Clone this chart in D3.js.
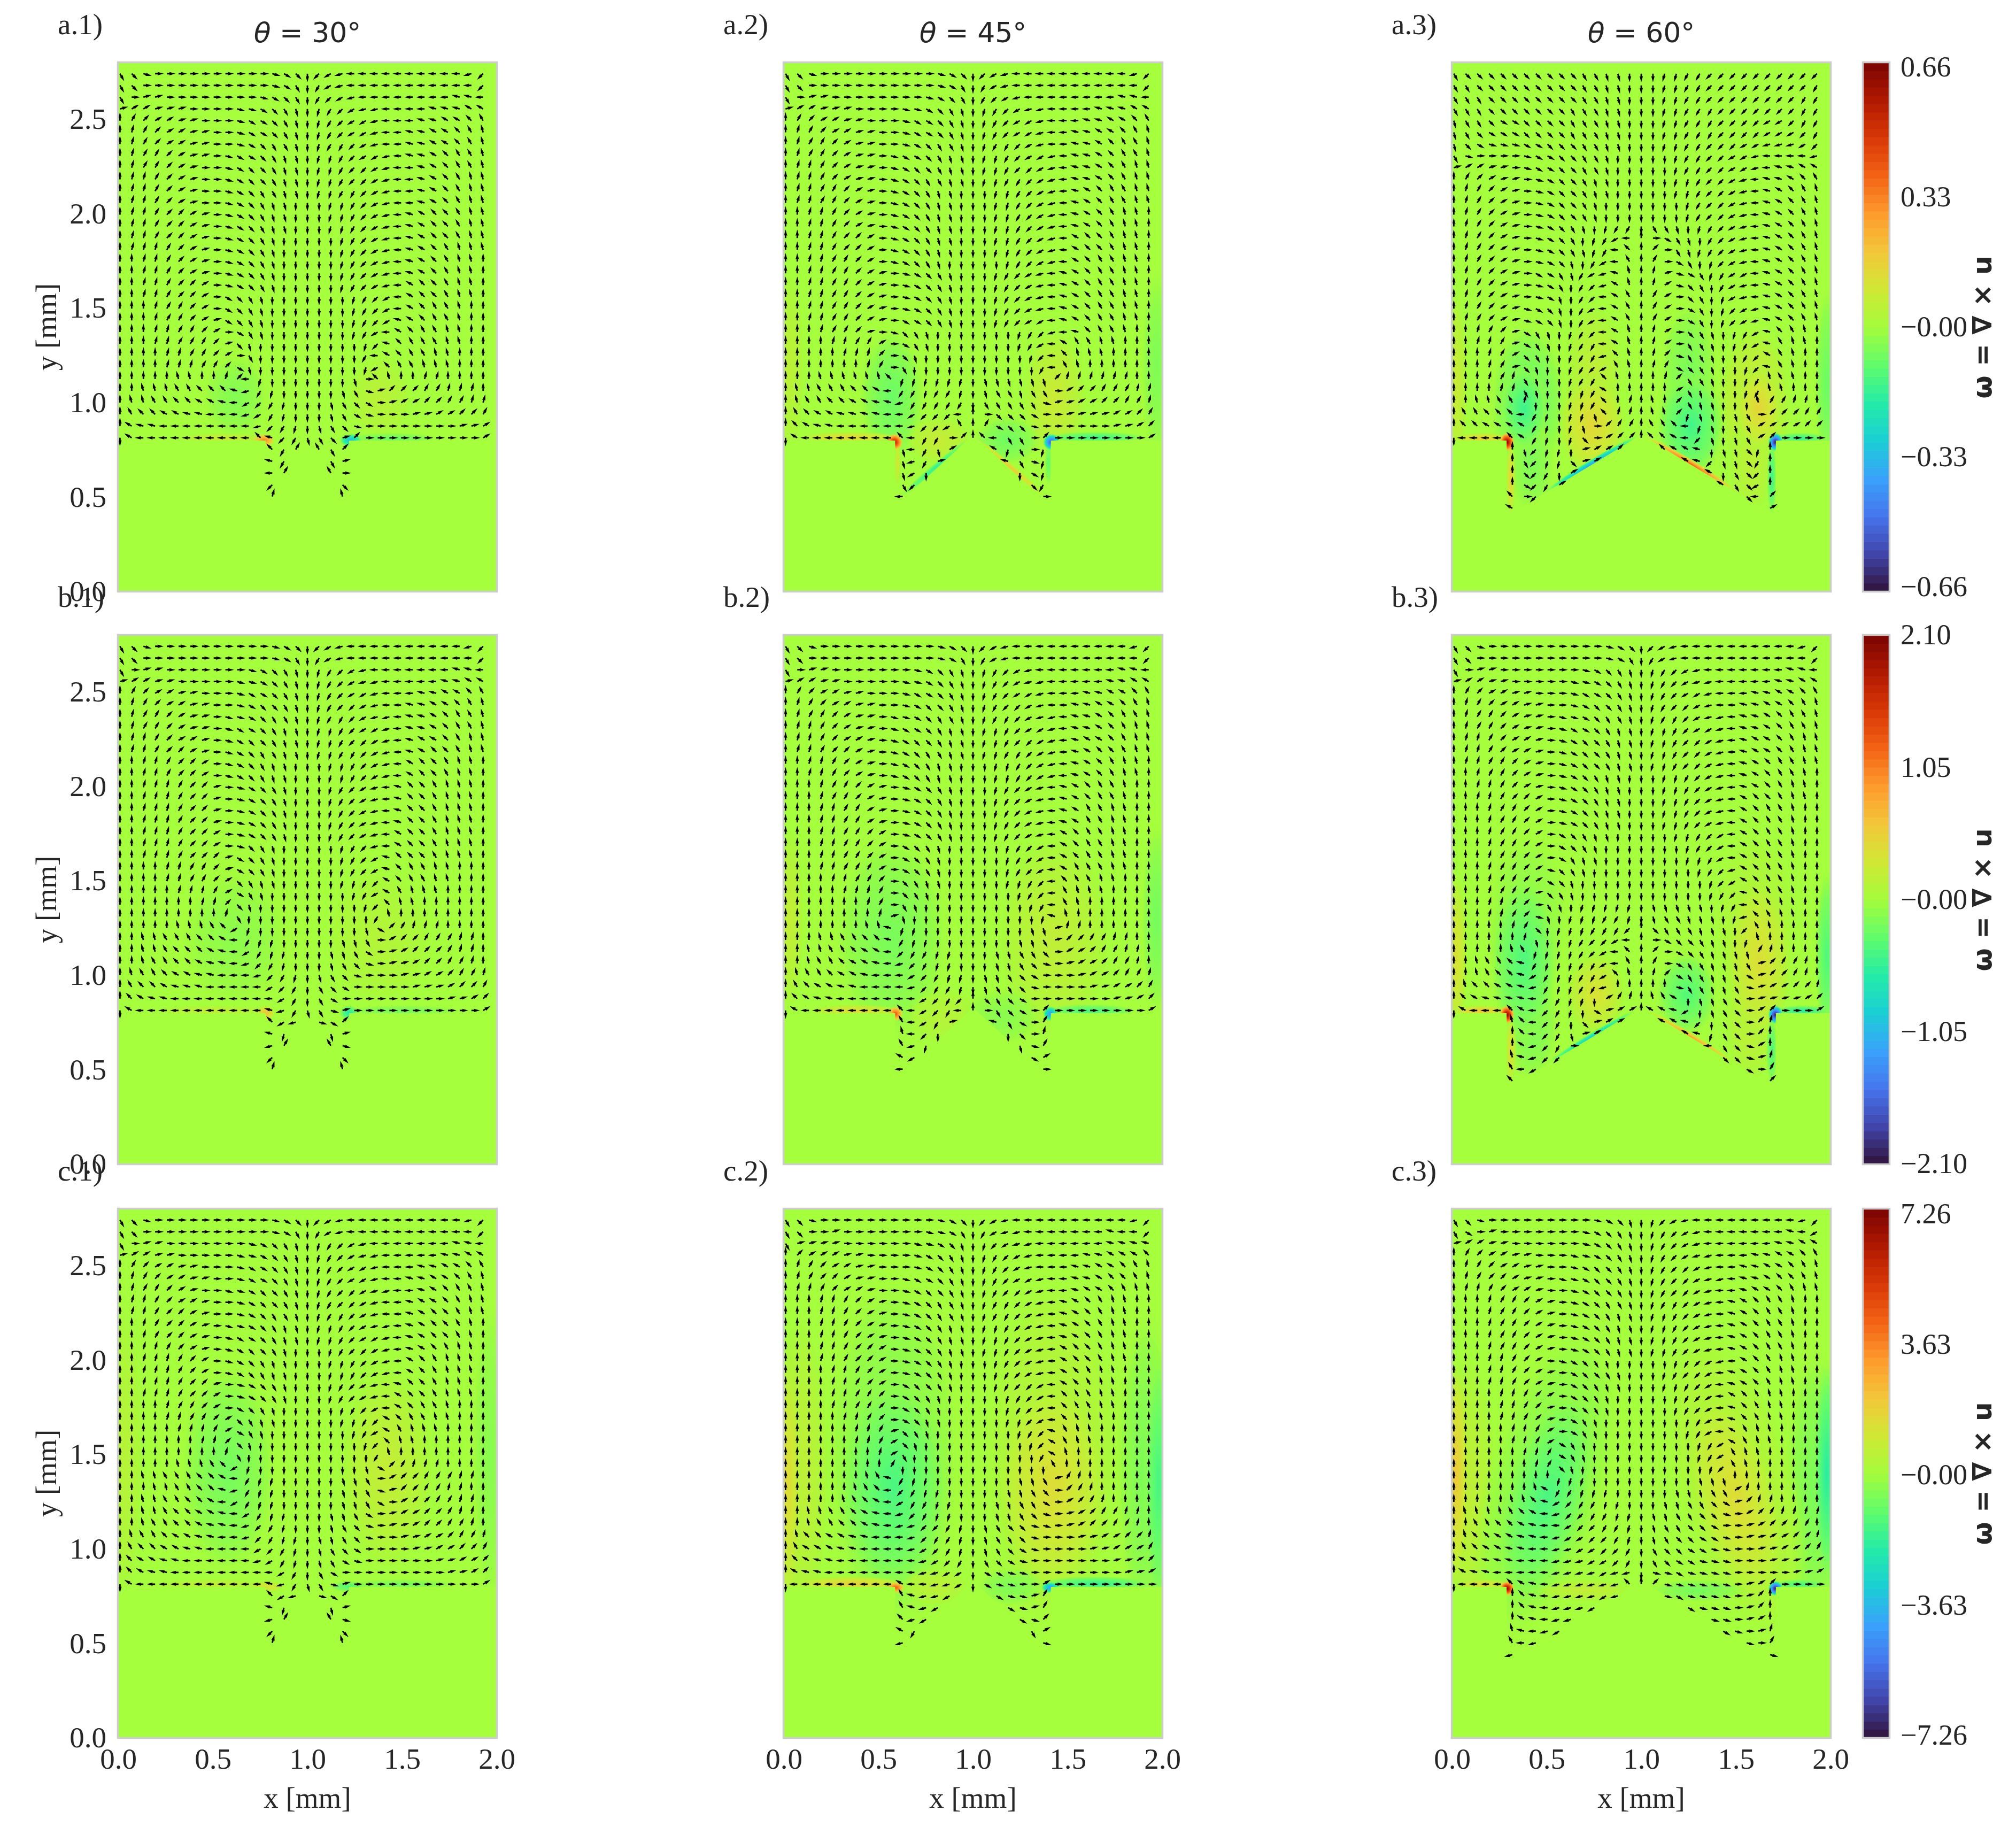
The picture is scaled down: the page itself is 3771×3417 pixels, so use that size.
<!DOCTYPE html>
<html><head><meta charset="utf-8">
<style>html,body{margin:0;padding:0;background:#fff}svg{display:block}</style>
<script src="https://cdn.jsdelivr.net/npm/d3@7"></script>
</head><body>
<div id="chart"></div>
<script>
// ---- categories and ticks
const thetas=[30,45,60];
const rowLetters=["a","b","c"];
const colorMax=[0.66,2.10,7.26];
const colorTickLabels=[["0.66","0.33","\u22120.00","\u22120.33","\u22120.66"],["2.10","1.05","\u22120.00","\u22121.05","\u22122.10"],["7.26","3.63","\u22120.00","\u22123.63","\u22127.26"]];
const xTicks=[0,0.5,1,1.5,2];
const yTicks=[0,0.5,1,1.5,2,2.5];
const turboStops=["#30123b","#4145ab","#4675ed","#39a2fc","#1bcfd4","#24eca6","#61fc6c","#a4fc3b","#d1e834","#f3c63a","#fe9b2d","#f36315","#d93806","#b11901","#7a0402"];
// cavity corner (x, y) of the left half, for theta = 30, 45, 60; apex at x = 1
const cavityX=[0.78,0.59,0.29];
const cavityY=[0.47,0.45,0.40];

// ---- arrow directions, left half of each panel (columns 0..16, rows top to bottom).
// a=0deg, g=90deg (up), m=180deg (left), s=270deg (down), each letter = 15deg. Space = no arrow.
const dir_a1=[
"uvxaaaaaaaaaaxwvs","uvaaaaaaaaaaaxwus","uabbaaaaaaaaxwvus","bccbbbaaaaxxwvuts","gedccbbaaaxwwvuts","gfedccbbaaxwwvuts",
"gfedccbbaaxwvuuts","gfeedcbbaxwwvutts","gfeedcbaaxwvvutts","gffedcbaaxwvvutts","gffedcbaaxwvuutts","gffedcbaaxwvuttss",
"gffeddcbaxwvuttss","gffeddcbaxwvuttss","gffeddcbaxwvutsss","gfffedcbaxwvutsss","ggffedcbaxwvutsss","ggffedcbaxwvutsss",
"ggffeddcaxwvutsss","ggffeddcawvutssss","gggfeedcawvutssss","gggfeedcbwvutssss","gggffeedcawutssss","gggffeeedbvtsssss",
"ggggffeedcausssss","ggggfffeedwtsssss","ggggghhggfdmrssss","gghhhiijjjlnqrsss","ghhiijjkklmopqrss","gijjkkllmmmnoqrss",
"gkllmmmmmmmmnpqrs","skmmmmmmmmmmjlpqt","             jqe ","             lq  ","             me  ","             p   ","             f   "];
const dir_a2=[
"uvxaaaaaaaaaaxwvs","uvaaaaaaaaaaaxwus","uabbaaaaaaaaxwvus","bccbbbaaaaxxwvuts","gedccbbaaaxwwvuts","gfedccbbaaxwwvuts",
"gfeedcbbaaxwvuuts","gfeedcbbaxwwvutts","gffedcbbaxwvvutts","gffedcbbaxwvuutts","gffeedcbaxwvuttss","gffeedcbaxwvuttss",
"ggffedcbaxwvuttss","ggffedcbaxwvuttss","ggffeddcaxwvuttss","ggffeddcaxwvuttss","ggffeedcaxwvutsss","ggffeedcbaxwvutss",
"ggffeedcbaxwvutss","ggffeedcbaxwvutss","ggffeedcbaxwvutss","ggffeedcbawwvutss","gggfeedbaxvutssss","ggggffeecawutssss",
"gggggfffdavtsssss","gggggggfeaussssss","ggghhhhhhjrrrrrrs","ghhiiijjkmqqrqqrs","ghiijjkkllnqqqqqs","gijkkllllmmopppmg",
"gjkllmmmmmmnppoig","skmmmmmmmmjmqqadg","          tmqtc  ","          tnqb   ","          tos    ","          up     ","          m      "];
const dir_a3=[
"uvvvvvvvvvvuuttss","uuvvvvvvvvvuuttss","uuuvvvvvvvvuuttss","uuuvvvvvvvuuuttss","tuuvwwvvvvuuuttss","tuvwwwvvvvuuuttss",
"tvwxxxwwvvvuuttss","uxaaaaxwwvvuutsss","bccbbaxwwvvuutsss","gedcbbaxwvvuttsss","gfedcbaxwvvuttsss","gfedcbaxwvvutssss",
"gfedcbaxwvvutssss","gfedcbaxwvutsrqqs","gfedcbaxwvusrqomg","gfedcbaxwvutrqmjg","gfedcbaxwvtsqomig","gfedcbawwutqonlhg",
"gfedcbaxwusqpnkhg","gfedcbaxwtsqpmkig","gfedcbxwvtsqomkig","gfedcbxwvtsqomkig","ggfedbwutsrqpmkhg","ggffebwutsrqqmkhg",
"gggfecvussrqqnjhg","gggfebvtssrqpoihg","gggfefutssrqqjhgg","ggggffutssrrqkggg","gghhiifsssrrqjgfg","giijjjmqrsrrtjffg",
"gjjkkkkqrsrtadeeg","smmmmjkqrsrvacddg","     gtprrsbccd  ","     guprrvbc    ","     gvpqsc      ","     gwpqc       ","     jap         ","     k           "];
const dir_b1=[
"uvxaaaaaaaaaaxwvs","uvaaaaaaaaaaaxwus","uabbaaaaaaaxwvuts","bccbbaaaaaxxwvuts","gedccbbaaaxwwvuts","gfedccbbaaxwvvuts",
"gfeedcbbaxxwvuuts","gfeedcbbaxwwvutts","gffedccbaxwvvutts","gffeddcbaxwvuutts","ggffeddcaxwvuttss","ggffeddcaxwvuttss",
"ggfffeddbaxwvutss","ggfffeddbaxwvutss","ggfffeddbaxwvutss","ggfffeddbaxwvutss","ggfffeddcaxwvutss","ggfffeddcaxvutsss",
"ggfffedddbwvutsss","ggggffeedbwvutsss","ggggffeedcvuttsss","gggggfffecwutssss","gggggggffdvtsssss","gggggggggfussssss",
"ggggghhhijorsssss","gghhiiijjkmqrrsss","gghhijjjklmoqrrss","gghiijjkllmnpqrss","ghiijkkllmmmnpqrs","gijjklllmmmmmopqs",
"gjkllmmmmmmmmmoqs","skmmmmmmmmmmmlnqt","             jon ","             lr  ","             ne  ","             p   ","             f   "];
const dir_b2=[
"uvxaaaaaaaaaaxwvs","uvaaaaaaaaaaaxwus","uabbaaaaaaaxwvuts","bccbbaaaaaxxwvuts","gedccbbaaaxwwvuts","gfedccbbaaxwvvuts",
"gfeedcbbaxxwvuuts","gffedcbbaxwwvutts","gffedccbaxwvvutts","gffeddcbaxwvuutts","ggffedcbaxwvuttss","ggffedcbaxwvuttss",
"gggfeedcbaxwvutss","gggfeedcbaxwvutss","gggffeecbaxwvutss","gggffeecbaxwvutss","gggffeedcaxwvutss","gggffeedcawvutsss",
"gggffeedcawvutsss","gggffeeecawvutsss","ggggffeedavuttsss","gggggfffeavutssss","gggggggfeautsssss","ggggggggfbtssssss",
"ggggggghhlrrsssss","ggghhiijjlqrrssss","gghhiijkkmpqqrrss","gghiijkklmnpqrrss","ghiijkklmmmopqrrs","gijkkllmmmmnpqqrs",
"gjkllmmmmmmmopqpg","skmmmmmmmmjmopqmg","          imoqb  ","          hmps   ","          inr    ","          ko     ","          m      "];
const dir_b3=[
"uvxaaaaaaaaaaxwvs","uvaaaaaaaaaaaxwus","uabbaaaaaaaxwvuts","bccbbaaaaaxxwvuts","gedccbbaaaxwwvuts","gfedccbbaaxwvvuts",
"gfeedcbbaxxwvuuts","gfeedcbbaxwwvutts","gffedccbaxwvvutts","gffedccbaxwvvutts","gffeedcbaxwvvutts","ggfeedcbaxwvuttss",
"ggffedcbaxwvuttss","ggffeddcaxwvuttss","gggfeedcaxwvuttss","gggfeedcaxwvuttss","gggfeedcawvuttsss","gggfeedcawvutssss",
"gggfeedcawuttssss","gggfeedcxvutsssss","gggfeedcwvtssssss","gggfeedbvutssssss","gggffedautsrrrrrs","gggffedxtsrrrqqrs",
"gggggfevsrrrqqqpg","ggggggftsrrqppomg","ggggghirrrrqpomjg","gghiijlqrrrqqomig","gghijjloqrrqqojhg","ghjjkklnqrrqqnggg",
"gjkllllmpqrrscefg","skmmmjkmpqrswbccg","     hjmpqsvbcc  ","     gjmpqtbc    ","     gknpqa      ","     hlnpp       ","     imo         ","     j           "];
const dir_c1=[
"uvxaaaaaaaaaaxwvs","uvaaaaaaaaaaaxwus","uabbaaaaaaaxwvuts","bccbbaaaaaxxwvuts","gedccbbaaaxwwvuts","gfedccbbaaxwwvuts",
"gfeedcbaaxxwvvuts","gffedccbaaxwvvuts","gffeddcbaaxwvuuts","ggfeddcbaxxwvutts","ggfeddcbaxwwvutts","ggffedcbaxwvvutss",
"ggfffedcaxwvuttss","ggfffedcaxwvuttss","ggfffeddbaxwvutss","ggfffeddcaxwvutss","ggggfeedcawvutsss","ggggffeedcvuttsss",
"gggggfffecwutssss","gggggggffdvtsssss","gggggggggfussssss","ggggghhhijorsssss","gghhiiijjkmqrrsss","ggghhiijjlnqrrsss",
"gghhiijjkmoqrrsss","gghhijjkklmoqrrss","gghiijjkllmnpqrss","ghiijkkllmmnpqrrs","gijjkkllmmmmopqrs","gjkkllmmmmmmnoqrs",
"gjkllmmmmmmmmmoqs","skmmmmmmmmmmmlnqt","             jon ","             lr  ","             ne  ","             p   ","             f   "];
const dir_c2=[
"uvxaaaaaaaaaaxwvs","uvaabaaaaaaaxxwus","ubbbbaaaaaaxxwvts","gdcccbbaaaaxwvuts","gfedccbbaaaxwvuts","gfeddcbbaaxwwvuts",
"gffedccbaaxwvvuts","gggffedcbaxwvuuts","gggffedcbaxwvuuts","gggffedcbaxwvutts","gggffedcbaxwvutts","gggffeddcaxwvutts",
"gggffeddcaxwvutss","ggggffedcaxwvutss","ggggffedcawvvutss","ggggffeedawvutsss","ggggffeedawvutsss","gggggffedawvttsss",
"ggggggffebvutssss","ggggggffecvtsssss","ggggggggfcussssss","gggggggggesssssss","ggggggghilqrrssss","gggggghijmpqrrsss",
"ggggghijkmoqqrrss","gghhiijklmnpqrrss","gghiijjklmnnppqrs","ghjjkkllmmmnpqqrs","gikkkllmmmmnopqrs","gjkllmmmmmmmnopqs",
"gkllmmmmmmmmnnoos","smmmmmmmmmkmmnnos","          ilnno  ","          ilno   ","          jno    ","          kq     ","          n      "];
const dir_c3=[
"uvxaaaaaaaaaxwvts","uwabaaaaaaaxwvuts","bccbbaaaaaaxwvuts","gedccbbaaaxxwvuts","gfedccbbaaxwvvuts","gfeddcbbaxxwvvuts",
"gffedccbaaxwvvuts","gggfeedcbaxwvuuts","gggfeedcbaxwvutts","gggfeedcbaxwvutts","gggfeedcbaxwvutts","gggfeedcbaxwvutts",
"gggffedcaxwvutsss","gggffedcbawvvutss","gggffedcbawvuttss","ggggffedcawvutsss","ggggffedbawvutsss","ggggffedbawutssss",
"gggggffecawutssss","gggggffecwutsssss","ggggggffewutsssss","gggggggfevtssssss","gggggggggrrrsssss","ggggggghkqqrrrsss",
"ggggghhjlopqqrrss","ghhhhijkmnppqqrrs","ggiijjklmmoppqqrs","ghjjkkllmnooppqrs","gijkkllmmnnooppqs","gkklllmmmnnnoopqs",
"gkllmmmmmnnnnonns","smmmmjklmnnnnnnjg","     gjlmnnnnon  ","     gjlmnnno    ","     gklmnn      ","     hlmno       ","     imn         ","     n           "];

// ---- vorticity patches: x, y, half-width, half-height (mm), tilt (deg), peak as a fraction of the colour range.
// Left half only: the right half of each panel is the mirror image with opposite sign.
const heat_a1=[[0.62,1.03,0.17,0.22,0,-0.07],[0.55,0.81,0.25,0.03,0,0.12],[0.77,0.8,0.06,0.035,0,0.5]];
const heat_a2=[[0.03,1.2,0.08,0.5,0,0.08],[0.57,1.03,0.17,0.36,0,-0.12],[0.82,0.8,0.17,0.13,0,0.11],[0.8,0.655,0.24,0.02,40,-0.25],[0.35,0.815,0.27,0.03,0,0.22],[0.6,0.68,0.02,0.12,0,0.14],[0.585,0.79,0.045,0.045,0,0.85]];
const heat_a3=[[0.02,1.1,0.06,0.5,0,0.12],[0.4,1.0,0.2,0.42,0,-0.13],[0.42,0.68,0.12,0.27,0,-0.08],[0.38,0.97,0.13,0.23,0,-0.22],[0.75,1.15,0.15,0.38,0,0.09],[0.74,0.88,0.18,0.28,0,0.21],[0.74,0.675,0.29,0.024,31,-0.55],[0.16,0.81,0.15,0.03,0,0.24],[0.31,0.6,0.025,0.2,0,0.22],[0.29,0.79,0.04,0.05,0,0.98]];
const heat_b1=[[0.62,1.2,0.28,0.36,0,-0.05],[0.5,0.81,0.32,0.03,0,0.1],[0.78,0.8,0.05,0.04,0,0.3]];
const heat_b2=[[0.03,1.3,0.08,0.5,0,0.1],[0.57,1.2,0.3,0.55,0,-0.09],[0.85,0.78,0.2,0.15,0,0.06],[0.38,0.81,0.25,0.035,0,0.2],[0.59,0.795,0.04,0.04,0,0.62]];
const heat_b3=[[0.02,1.1,0.06,0.45,0,0.18],[0.4,1.3,0.22,0.45,0,-0.05],[0.42,0.75,0.14,0.32,0,-0.09],[0.38,1.08,0.18,0.45,0,-0.18],[0.76,0.9,0.16,0.22,0,0.17],[0.74,0.675,0.27,0.02,31,-0.4],[0.15,0.81,0.15,0.03,0,0.28],[0.31,0.6,0.03,0.18,0,0.18],[0.29,0.79,0.04,0.05,0,0.98]];
const heat_c1=[[0.03,1.5,0.1,0.8,0,0.06],[0.58,1.42,0.25,0.55,0,-0.1],[0.5,0.81,0.3,0.03,0,0.1],[0.78,0.8,0.1,0.03,0,0.18]];
const heat_c2=[[0.08,1.4,0.16,0.85,0,0.09],[0.02,1.35,0.08,0.7,0,0.2],[0.58,1.5,0.36,0.95,0,-0.07],[0.58,1.33,0.3,0.6,0,-0.19],[0.8,0.8,0.18,0.1,0,0.08],[0.35,0.815,0.3,0.04,0,0.24],[0.59,0.795,0.05,0.03,0,0.62]];
const heat_c3=[[0.08,1.3,0.16,0.75,0,0.09],[0.02,1.4,0.07,0.6,0,0.27],[0.5,1.35,0.32,0.85,-15,-0.07],[0.5,1.27,0.23,0.6,-15,-0.19],[0.7,0.78,0.25,0.06,0,0.1],[0.16,0.81,0.15,0.03,0,0.2],[0.29,0.79,0.04,0.04,0,0.98]];

const dirTables=[[dir_a1,dir_a2,dir_a3],[dir_b1,dir_b2,dir_b3],[dir_c1,dir_c2,dir_c3]];
const heatTables=[[heat_a1,heat_a2,heat_a3],[heat_b1,heat_b2,heat_b3],[heat_c1,heat_c2,heat_c3]];

// ---- layout
const W=3771,H=3417;
const colLeft=[219,1464,2714], rowTop=[115,1186,2259], panelW=712, panelH=993, inset=2;
const barLeft=3483, barW=53;
const barLabelInset=[[11,10],[2,2],[12,6]];
const ink="#262626", spine="#cccccc", solid="#a6ff3d";
const serif="'Liberation Serif','Times New Roman',serif", sans="'DejaVu Sans',sans-serif";
const stepX=0.0619, stepY=0.0622, wallRowY=0.813, wallRow=31;
const turbo=d3.scaleLinear().domain(turboStops.map((_,i)=>i/(turboStops.length-1))).range(turboStops).interpolate(d3.interpolateRgb);
const ARROW="M0,-1.4L5.4,-1.4L4.4,-3.2L16,0L4.4,3.2L5.4,1.4L0,1.4Z";
const RINGS=14;

const svg=d3.select("#chart").append("svg").attr("width",W).attr("height",H).attr("viewBox",[0,0,W,H]);
const defs=svg.append("defs");

rowLetters.forEach((letter,r)=>{
  thetas.forEach((theta,c)=>{
    const L=colLeft[c],T=rowTop[r];
    const x=d3.scaleLinear().domain([0,2]).range([L+inset,L+panelW-inset]);
    const y=d3.scaleLinear().domain([0,2.8]).range([T+panelH-inset,T+inset]);
    const id=letter+(c+1);
    defs.append("clipPath").attr("id","box"+id).append("rect")
      .attr("x",x(0)).attr("y",y(2.8)).attr("width",x(2)-x(0)).attr("height",y(0)-y(2.8));
    const cx=cavityX[c],cy=cavityY[c];
    const fluid=[[0,2.8],[2,2.8],[2,0.8],[2-cx,0.8],[2-cx,cy],[1,0.83],[cx,cy],[cx,0.8],[0,0.8]];
    defs.append("clipPath").attr("id","fluid"+id).append("path")
      .attr("d",d3.line().x(d=>x(d[0])).y(d=>y(d[1]))(fluid)+"Z");
    const g=svg.append("g");
    g.append("rect").attr("x",x(0)).attr("y",y(2.8)).attr("width",x(2)-x(0)).attr("height",y(0)-y(2.8)).attr("fill",solid);

    // vorticity patches
    const patches=[];
    heatTables[r][c].forEach(b=>{
      patches.push(b);
      patches.push([2-b[0],b[1],b[2],b[3],-b[4],-b[5]]);
    });
    const hg=g.append("g").attr("clip-path",`url(#fluid${id})`);
    const sx=(x(2)-x(0))/2, sy=(y(0)-y(2.8))/2.8;
    patches.forEach(b=>{
      const rings=hg.append("g").attr("transform",`translate(${x(b[0])},${y(b[1])}) rotate(${-b[4]})`);
      rings.selectAll("ellipse").data(d3.range(1,RINGS+1)).join("ellipse")
        .attr("rx",k=>b[2]*sx*(1-(k-1)/RINGS))
        .attr("ry",k=>b[3]*sy*(1-(k-1)/RINGS))
        .attr("fill",k=>turbo(0.5+b[5]*Math.pow(k/RINGS,0.75)/2))
        .attr("fill-opacity",k=>Math.min(1,(k/RINGS)*3));
    });

    // arrows (tail sits on the grid point)
    const arrows=[];
    dirTables[r][c].forEach((row,n)=>{
      const py=wallRowY+(wallRow-n)*stepY;
      row.split("").forEach((ch,i)=>{
        if(ch===" ")return;
        const ang=(ch.charCodeAt(0)-97)*15;
        const px=1-(16-i)*stepX;
        arrows.push({x:px,y:py,a:ang});
        if(i>0&&i<16) arrows.push({x:2-px,y:py,a:180-ang});
      });
    });
    g.append("g").attr("clip-path",`url(#box${id})`).selectAll("path").data(arrows).join("path")
      .attr("d",ARROW).attr("fill","#000")
      .attr("transform",d=>`translate(${x(d.x)},${y(d.y)}) rotate(${-d.a})`);

    // spines
    g.append("rect").attr("x",L+1.5).attr("y",T+1.5).attr("width",panelW-3).attr("height",panelH-3)
      .attr("fill","none").attr("stroke",spine).attr("stroke-width",3.5);

    // axes
    if(c===0){
      const ax=g.append("g").attr("transform",`translate(${x(0)},0)`)
        .call(d3.axisLeft(y).tickValues(yTicks).tickFormat(d3.format(".1f")).tickSize(0).tickPadding(22));
      ax.select(".domain").remove();
      ax.selectAll("text").attr("font-family",serif).attr("font-size",55).attr("fill",ink);
      g.append("text").attr("transform",`translate(105,${(T+T+panelH)/2}) rotate(-90)`)
        .attr("text-anchor","middle").attr("font-family",serif).attr("font-size",55).attr("fill",ink).text("y [mm]");
    }
    if(r===2){
      const ax=g.append("g").attr("transform",`translate(0,${y(0)})`)
        .call(d3.axisBottom(x).tickValues(xTicks).tickFormat(d3.format(".1f")).tickSize(0).tickPadding(19));
      ax.select(".domain").remove();
      ax.selectAll("text").attr("font-family",serif).attr("font-size",55).attr("fill",ink);
      g.append("text").attr("x",L+panelW/2).attr("y",3381).attr("text-anchor","middle")
        .attr("font-family",serif).attr("font-size",55).attr("fill",ink).text("x [mm]");
    }
    if(r===0){
      const t=g.append("text").attr("x",L+panelW/2).attr("y",T-36).attr("text-anchor","middle")
        .attr("font-family",sans).attr("font-size",52).attr("fill",ink);
      t.append("tspan").attr("font-style","italic").text("\u03B8");
      t.append("tspan").text(` = ${theta}\u00B0`);
    }
    g.append("text").attr("x",L-111).attr("y",T-51).attr("font-family",serif).attr("font-size",55).attr("fill",ink)
      .text(`${letter}.${c+1})`);
  });

  // colour bar
  const T=rowTop[r], m=colorMax[r];
  const cb=svg.append("g");
  const levels=d3.range(64);
  const ly=d3.scaleBand().domain(levels).range([T+panelH-inset,T+inset]);
  cb.selectAll("rect.lvl").data(levels).join("rect").attr("class","lvl")
    .attr("x",barLeft+3).attr("width",barW-6).attr("y",l=>ly(l)).attr("height",ly.bandwidth()+0.6)
    .attr("fill",l=>turbo((l+0.5)/levels.length));
  cb.append("rect").attr("x",barLeft+1.5).attr("y",T+1.5).attr("width",barW-3).attr("height",panelH-3)
    .attr("fill","none").attr("stroke",spine).attr("stroke-width",3.5);
  const vy=d3.scaleLinear().domain([m,-m]).range([T+barLabelInset[r][0],T+panelH-barLabelInset[r][1]]);
  const tickVals=[m,m/2,0,-m/2,-m];
  cb.selectAll("text.tk").data(tickVals).join("text").attr("class","tk")
    .attr("x",3555).attr("y",v=>vy(v)).attr("dy","0.32em")
    .attr("font-family",serif).attr("font-size",54).attr("fill",ink)
    .text((v,i)=>colorTickLabels[r][i]);
  const ct=cb.append("text").attr("transform",`translate(3725,${T+497}) rotate(-90)`)
    .attr("text-anchor","middle").attr("font-family",sans).attr("font-size",50).attr("font-weight","bold").attr("fill",ink);
  ct.text("\u03C9 = \u2207 \u00D7 u");
});
</script>
</body></html>
